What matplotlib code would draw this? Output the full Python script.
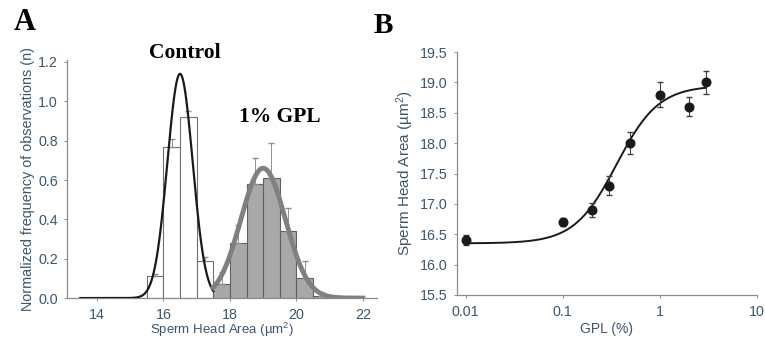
import numpy as np
import matplotlib
matplotlib.use('Agg')
import matplotlib.pyplot as plt

plt.rcParams['font.family'] = ['Liberation Sans', 'DejaVu Sans']
plt.rcParams['mathtext.fontset'] = 'custom'
plt.rcParams['mathtext.rm'] = 'Liberation Sans'
plt.rcParams['mathtext.it'] = 'Liberation Sans:italic'

txt_col = '#3b5670'
axis_col = '#8a8a8a'

# panel A: histogram bins (left edges, width 0.5)
ctrl_left = [15.5, 16.0, 16.5, 17.0]
ctrl_freq = [0.11, 0.77, 0.92, 0.19]
ctrl_err = [0.01, 0.04, 0.03, 0.02]
gpl_left = [17.5, 18.0, 18.5, 19.0, 19.5, 20.0, 20.5]
gpl_freq = [0.07, 0.28, 0.58, 0.61, 0.34, 0.10, 0.01]
gpl_err = [0.06, 0.09, 0.13, 0.18, 0.12, 0.09, 0.02]
bin_w = 0.5

# gaussian fits: peak, mean, sd, x range
ctrl_fit = (1.14, 16.5, 0.38, 13.5, 17.5)
gpl_fit = (0.66, 19.0, 0.67, 17.5, 22.0)

# panel B: dose response
gpl_pct = [0.01, 0.1, 0.2, 0.3, 0.5, 1, 2, 3]
head_area = [16.4, 16.7, 16.9, 17.3, 18.0, 18.8, 18.6, 19.0]
head_err = [0.08, 0.06, 0.11, 0.16, 0.18, 0.20, 0.16, 0.19]
# logistic fit: bottom, top, ec50, hill
dose_fit = (16.35, 18.95, 0.36, 2.0)


def gauss(x, p):
    return p[0] * np.exp(-(x - p[1])**2 / (2 * p[2]**2))


fig = plt.figure(figsize=(7.65, 3.43), dpi=100)
axA = fig.add_axes([0.0876, 0.131, 0.405, 0.694])
axB = fig.add_axes([0.597, 0.140, 0.392, 0.708])

for ax in (axA, axB):
    for s in ('top', 'right'):
        ax.spines[s].set_visible(False)
    for s in ('left', 'bottom'):
        ax.spines[s].set_color(axis_col)
        ax.spines[s].set_linewidth(0.9)
    ax.tick_params(colors=axis_col, labelcolor=txt_col, labelsize=10.3,
                   length=2.5, width=0.7)
    ax.tick_params(axis='x', pad=5)
    ax.tick_params(axis='y', pad=4)

# --- A ---
axA.bar(ctrl_left, ctrl_freq, width=bin_w, align='edge', color='white',
        edgecolor='#707070', linewidth=0.8, zorder=2)
axA.bar(gpl_left, gpl_freq, width=bin_w, align='edge', color='#a8a8a8',
        edgecolor='#606060', linewidth=0.8, zorder=2)
cx = np.array(ctrl_left) + bin_w / 2
gx = np.array(gpl_left) + bin_w / 2
axA.errorbar(cx, ctrl_freq, yerr=[np.zeros(len(cx)), ctrl_err], fmt='none',
             ecolor='#909090', elinewidth=0.7, capsize=2.5, zorder=3)
axA.errorbar(gx, gpl_freq, yerr=[np.zeros(len(gx)), gpl_err], fmt='none',
             ecolor='#909090', elinewidth=0.7, capsize=2.5, zorder=3)

xs = np.linspace(ctrl_fit[3], ctrl_fit[4], 300)
axA.plot(xs, gauss(xs, ctrl_fit), color='#1a1a1a', lw=1.6, zorder=4)
xs = np.linspace(gpl_fit[3], gpl_fit[4], 300)
axA.plot(xs, gauss(xs, gpl_fit), color='#808080', lw=3.5, zorder=4)

axA.set_xlim(13.1, 22.42)
axA.set_ylim(0, 1.21)
axA.set_xticks([14, 16, 18, 20, 22])
axA.set_yticks(np.arange(0, 1.21, 0.2))
axA.yaxis.set_major_formatter(matplotlib.ticker.FormatStrFormatter('%.1f'))
axA.set_xlabel('Sperm Head Area (\u00b5m$^2$)', color=txt_col, fontsize=9.5,
               labelpad=-1)
axA.set_ylabel('Normalized frequency of observations (n)', color=txt_col,
               fontsize=10.4, labelpad=2)

fig.text(0.242, 0.845, 'Control', family='Liberation Serif',
         fontweight='bold', fontsize=15.5, ha='center', va='center')
fig.text(0.366, 0.658, '1% GPL', family='Liberation Serif',
         fontweight='bold', fontsize=15.5, ha='center', va='center')
fig.text(0.018, 0.933, 'A', family='Liberation Serif', fontweight='bold',
         fontsize=22, ha='left', va='center')
fig.text(0.488, 0.925, 'B', family='Liberation Serif', fontweight='bold',
         fontsize=21, ha='left', va='center')

# --- B ---
xd = np.logspace(np.log10(0.01), np.log10(3), 300)
b, t, ec, h = dose_fit
axB.plot(xd, b + (t - b) / (1 + (ec / xd)**h), color='#1a1a1a', lw=1.4,
         zorder=2)
axB.errorbar(gpl_pct, head_area, yerr=head_err, fmt='o', color='#1a1a1a',
             ms=6.2, ecolor='#404040', elinewidth=0.8, capsize=2.5, zorder=3)
axB.set_xscale('log')
axB.set_xlim(0.0081, 10)
axB.set_ylim(15.5, 19.5)
axB.set_xticks([0.01, 0.1, 1, 10])
axB.set_xticklabels(['0.01', '0.1', '1', '10'])
axB.minorticks_off()
axB.set_yticks(np.arange(15.5, 19.51, 0.5))
axB.yaxis.set_major_formatter(matplotlib.ticker.FormatStrFormatter('%.1f'))
axB.set_xlabel('GPL (%)', color=txt_col, fontsize=10, labelpad=2)
axB.set_ylabel('Sperm Head Area (\u00b5m$^2$)', color=txt_col, fontsize=11,
               labelpad=3)

fig.savefig('out.png', dpi=100)
